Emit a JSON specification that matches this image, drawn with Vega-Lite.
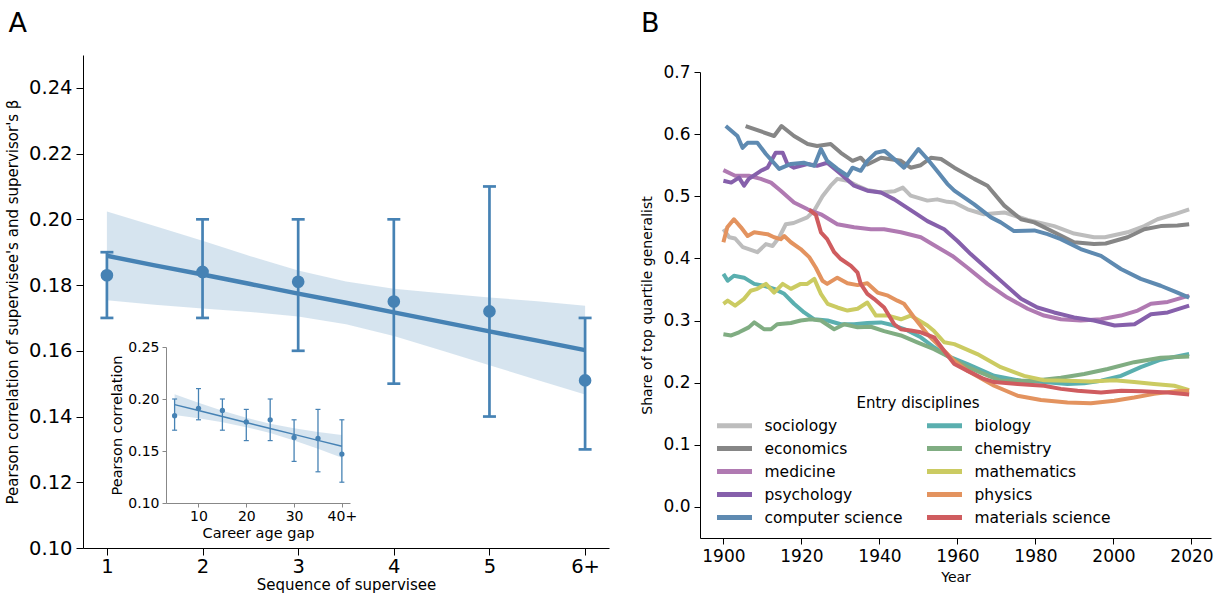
{
  "$schema": "https://vega.github.io/schema/vega-lite/v6.json",
  "padding": {"left": 5, "top": 10, "right": 5, "bottom": 2},
  "spacing": 31,
  "resolve": {"legend": {"color": "independent"}},
  "config": {
    "view": {"stroke": null},
    "font": "DejaVu Sans",
    "axis": {"grid": false, "domainColor": "#000", "tickColor": "#000", "labelColor": "#000", "titleColor": "#000", "titleFontWeight": "normal", "labelFont": "DejaVu Sans", "titleFont": "DejaVu Sans"},
    "legend": {"labelFont": "DejaVu Sans", "titleFont": "DejaVu Sans"},
    "title": {"font": "DejaVu Sans"}
  },
  "datasets": {
    "mainPts": [
      {"seq": 1, "mean": 0.183, "lo": 0.17, "hi": 0.19},
      {"seq": 2, "mean": 0.184, "lo": 0.17, "hi": 0.20},
      {"seq": 3, "mean": 0.181, "lo": 0.16, "hi": 0.20},
      {"seq": 4, "mean": 0.175, "lo": 0.15, "hi": 0.20},
      {"seq": 5, "mean": 0.172, "lo": 0.14, "hi": 0.21},
      {"seq": 6, "mean": 0.151, "lo": 0.13, "hi": 0.17}
    ],
    "mainFit": [
      {"seq": 1, "fit": 0.1889, "lo": 0.1754, "hi": 0.2024},
      {"seq": 1.5, "fit": 0.1860, "lo": 0.1740, "hi": 0.1980},
      {"seq": 2, "fit": 0.1832, "lo": 0.1729, "hi": 0.1935},
      {"seq": 2.5, "fit": 0.1803, "lo": 0.1718, "hi": 0.1888},
      {"seq": 3, "fit": 0.1774, "lo": 0.1704, "hi": 0.1844},
      {"seq": 3.5, "fit": 0.1746, "lo": 0.1681, "hi": 0.1811},
      {"seq": 4, "fit": 0.1717, "lo": 0.1645, "hi": 0.1789},
      {"seq": 4.5, "fit": 0.1688, "lo": 0.1601, "hi": 0.1775},
      {"seq": 5, "fit": 0.1659, "lo": 0.1556, "hi": 0.1762},
      {"seq": 5.5, "fit": 0.1631, "lo": 0.1511, "hi": 0.1751},
      {"seq": 6, "fit": 0.1602, "lo": 0.1467, "hi": 0.1737}
    ],
    "insetPts": [
      {"gap": 5, "mean": 0.184, "lo": 0.17, "hi": 0.20},
      {"gap": 10, "mean": 0.191, "lo": 0.18, "hi": 0.21},
      {"gap": 15, "mean": 0.189, "lo": 0.17, "hi": 0.20},
      {"gap": 20, "mean": 0.178, "lo": 0.16, "hi": 0.19},
      {"gap": 25, "mean": 0.180, "lo": 0.16, "hi": 0.20},
      {"gap": 30, "mean": 0.163, "lo": 0.14, "hi": 0.18},
      {"gap": 35, "mean": 0.162, "lo": 0.13, "hi": 0.19},
      {"gap": 40, "mean": 0.147, "lo": 0.12, "hi": 0.18}
    ],
    "insetFit": [
      {"gap": 5, "fit": 0.1946, "lo": 0.1846, "hi": 0.2046},
      {"gap": 10, "fit": 0.1889, "lo": 0.1814, "hi": 0.1964},
      {"gap": 15, "fit": 0.1831, "lo": 0.1776, "hi": 0.1886},
      {"gap": 20, "fit": 0.1774, "lo": 0.1729, "hi": 0.1819},
      {"gap": 25, "fit": 0.1717, "lo": 0.1672, "hi": 0.1762},
      {"gap": 30, "fit": 0.1660, "lo": 0.1602, "hi": 0.1718},
      {"gap": 35, "fit": 0.1602, "lo": 0.1522, "hi": 0.1682},
      {"gap": 40, "fit": 0.1545, "lo": 0.1435, "hi": 0.1655}
    ],
    "lines": [
      {"d": "sociology", "year": 1900, "v": 0.447}, {"d": "sociology", "year": 1901.5, "v": 0.434}, {"d": "sociology", "year": 1903, "v": 0.432}, {"d": "sociology", "year": 1905, "v": 0.418}, {"d": "sociology", "year": 1908.7, "v": 0.410}, {"d": "sociology", "year": 1910.9, "v": 0.423}, {"d": "sociology", "year": 1912.6, "v": 0.420}, {"d": "sociology", "year": 1914.3, "v": 0.434}, {"d": "sociology", "year": 1916, "v": 0.455}, {"d": "sociology", "year": 1918, "v": 0.457}, {"d": "sociology", "year": 1921.5, "v": 0.466}, {"d": "sociology", "year": 1923.3, "v": 0.477}, {"d": "sociology", "year": 1925.4, "v": 0.500}, {"d": "sociology", "year": 1927.5, "v": 0.517}, {"d": "sociology", "year": 1929.2, "v": 0.528}, {"d": "sociology", "year": 1931.8, "v": 0.525}, {"d": "sociology", "year": 1934.4, "v": 0.517}, {"d": "sociology", "year": 1936.9, "v": 0.510}, {"d": "sociology", "year": 1940.4, "v": 0.506}, {"d": "sociology", "year": 1943.8, "v": 0.508}, {"d": "sociology", "year": 1946, "v": 0.514}, {"d": "sociology", "year": 1948, "v": 0.501}, {"d": "sociology", "year": 1952.3, "v": 0.493}, {"d": "sociology", "year": 1954.8, "v": 0.495}, {"d": "sociology", "year": 1957.4, "v": 0.491}, {"d": "sociology", "year": 1959.2, "v": 0.490}, {"d": "sociology", "year": 1962.6, "v": 0.479}, {"d": "sociology", "year": 1966.8, "v": 0.471}, {"d": "sociology", "year": 1972, "v": 0.474}, {"d": "sociology", "year": 1978, "v": 0.462}, {"d": "sociology", "year": 1984.8, "v": 0.452}, {"d": "sociology", "year": 1989.9, "v": 0.440}, {"d": "sociology", "year": 1995, "v": 0.434}, {"d": "sociology", "year": 1997.8, "v": 0.434}, {"d": "sociology", "year": 2003.6, "v": 0.442}, {"d": "sociology", "year": 2007.9, "v": 0.452}, {"d": "sociology", "year": 2011.3, "v": 0.463}, {"d": "sociology", "year": 2015.6, "v": 0.471}, {"d": "sociology", "year": 2019.4, "v": 0.479},
      {"d": "economics", "year": 1905.7, "v": 0.613}, {"d": "economics", "year": 1913, "v": 0.597}, {"d": "economics", "year": 1914.9, "v": 0.613}, {"d": "economics", "year": 1918.1, "v": 0.597}, {"d": "economics", "year": 1921.6, "v": 0.584}, {"d": "economics", "year": 1924, "v": 0.581}, {"d": "economics", "year": 1927.5, "v": 0.584}, {"d": "economics", "year": 1930.1, "v": 0.570}, {"d": "economics", "year": 1933.1, "v": 0.557}, {"d": "economics", "year": 1935.2, "v": 0.562}, {"d": "economics", "year": 1936.9, "v": 0.551}, {"d": "economics", "year": 1940.4, "v": 0.562}, {"d": "economics", "year": 1945.5, "v": 0.557}, {"d": "economics", "year": 1948, "v": 0.546}, {"d": "economics", "year": 1950.6, "v": 0.550}, {"d": "economics", "year": 1953.2, "v": 0.562}, {"d": "economics", "year": 1955.8, "v": 0.560}, {"d": "economics", "year": 1959.2, "v": 0.546}, {"d": "economics", "year": 1964.3, "v": 0.528}, {"d": "economics", "year": 1967.7, "v": 0.517}, {"d": "economics", "year": 1972, "v": 0.485}, {"d": "economics", "year": 1976.3, "v": 0.463}, {"d": "economics", "year": 1979.7, "v": 0.458}, {"d": "economics", "year": 1984.8, "v": 0.442}, {"d": "economics", "year": 1989.9, "v": 0.426}, {"d": "economics", "year": 1995, "v": 0.423}, {"d": "economics", "year": 1998, "v": 0.424}, {"d": "economics", "year": 2003.6, "v": 0.434}, {"d": "economics", "year": 2007.9, "v": 0.447}, {"d": "economics", "year": 2012.1, "v": 0.452}, {"d": "economics", "year": 2016.4, "v": 0.453}, {"d": "economics", "year": 2019.4, "v": 0.455},
      {"d": "medicine", "year": 1900, "v": 0.542}, {"d": "medicine", "year": 1903, "v": 0.533}, {"d": "medicine", "year": 1906.5, "v": 0.533}, {"d": "medicine", "year": 1909.6, "v": 0.528}, {"d": "medicine", "year": 1912.2, "v": 0.522}, {"d": "medicine", "year": 1914.7, "v": 0.509}, {"d": "medicine", "year": 1918.1, "v": 0.490}, {"d": "medicine", "year": 1921.6, "v": 0.479}, {"d": "medicine", "year": 1925, "v": 0.471}, {"d": "medicine", "year": 1929.2, "v": 0.455}, {"d": "medicine", "year": 1933.5, "v": 0.450}, {"d": "medicine", "year": 1937.8, "v": 0.447}, {"d": "medicine", "year": 1941.2, "v": 0.447}, {"d": "medicine", "year": 1945.5, "v": 0.442}, {"d": "medicine", "year": 1950.6, "v": 0.434}, {"d": "medicine", "year": 1954.9, "v": 0.418}, {"d": "medicine", "year": 1958.7, "v": 0.404}, {"d": "medicine", "year": 1962.6, "v": 0.385}, {"d": "medicine", "year": 1967.7, "v": 0.359}, {"d": "medicine", "year": 1972.8, "v": 0.337}, {"d": "medicine", "year": 1978, "v": 0.319}, {"d": "medicine", "year": 1982.2, "v": 0.308}, {"d": "medicine", "year": 1986.5, "v": 0.302}, {"d": "medicine", "year": 1991.6, "v": 0.300}, {"d": "medicine", "year": 1996.8, "v": 0.302}, {"d": "medicine", "year": 2001.9, "v": 0.308}, {"d": "medicine", "year": 2006.2, "v": 0.316}, {"d": "medicine", "year": 2009.6, "v": 0.327}, {"d": "medicine", "year": 2013.9, "v": 0.330}, {"d": "medicine", "year": 2019.4, "v": 0.340},
      {"d": "psychology", "year": 1900, "v": 0.525}, {"d": "psychology", "year": 1902, "v": 0.522}, {"d": "psychology", "year": 1904, "v": 0.530}, {"d": "psychology", "year": 1905.3, "v": 0.517}, {"d": "psychology", "year": 1906.5, "v": 0.528}, {"d": "psychology", "year": 1909.6, "v": 0.541}, {"d": "psychology", "year": 1911.3, "v": 0.546}, {"d": "psychology", "year": 1913.4, "v": 0.570}, {"d": "psychology", "year": 1915.2, "v": 0.570}, {"d": "psychology", "year": 1916.4, "v": 0.552}, {"d": "psychology", "year": 1918.1, "v": 0.546}, {"d": "psychology", "year": 1921.5, "v": 0.552}, {"d": "psychology", "year": 1924, "v": 0.549}, {"d": "psychology", "year": 1926.6, "v": 0.554}, {"d": "psychology", "year": 1930.1, "v": 0.536}, {"d": "psychology", "year": 1933.5, "v": 0.517}, {"d": "psychology", "year": 1936.9, "v": 0.509}, {"d": "psychology", "year": 1940.4, "v": 0.506}, {"d": "psychology", "year": 1943.8, "v": 0.495}, {"d": "psychology", "year": 1948.9, "v": 0.474}, {"d": "psychology", "year": 1952.3, "v": 0.460}, {"d": "psychology", "year": 1956.6, "v": 0.447}, {"d": "psychology", "year": 1960, "v": 0.428}, {"d": "psychology", "year": 1963.4, "v": 0.407}, {"d": "psychology", "year": 1967.7, "v": 0.383}, {"d": "psychology", "year": 1972, "v": 0.359}, {"d": "psychology", "year": 1976.3, "v": 0.335}, {"d": "psychology", "year": 1980.5, "v": 0.321}, {"d": "psychology", "year": 1984.8, "v": 0.313}, {"d": "psychology", "year": 1989.9, "v": 0.305}, {"d": "psychology", "year": 1995, "v": 0.300}, {"d": "psychology", "year": 2000.3, "v": 0.292}, {"d": "psychology", "year": 2005.4, "v": 0.294}, {"d": "psychology", "year": 2009.6, "v": 0.310}, {"d": "psychology", "year": 2013.9, "v": 0.313}, {"d": "psychology", "year": 2019.4, "v": 0.324},
      {"d": "computer science", "year": 1900.6, "v": 0.613}, {"d": "computer science", "year": 1903.6, "v": 0.597}, {"d": "computer science", "year": 1904.9, "v": 0.578}, {"d": "computer science", "year": 1906.2, "v": 0.586}, {"d": "computer science", "year": 1908.7, "v": 0.586}, {"d": "computer science", "year": 1910.9, "v": 0.568}, {"d": "computer science", "year": 1914.3, "v": 0.544}, {"d": "computer science", "year": 1917.3, "v": 0.552}, {"d": "computer science", "year": 1920.6, "v": 0.554}, {"d": "computer science", "year": 1923.3, "v": 0.549}, {"d": "computer science", "year": 1925, "v": 0.576}, {"d": "computer science", "year": 1926.6, "v": 0.557}, {"d": "computer science", "year": 1929.2, "v": 0.544}, {"d": "computer science", "year": 1931.8, "v": 0.533}, {"d": "computer science", "year": 1933.1, "v": 0.546}, {"d": "computer science", "year": 1935.2, "v": 0.541}, {"d": "computer science", "year": 1936.9, "v": 0.557}, {"d": "computer science", "year": 1939.1, "v": 0.570}, {"d": "computer science", "year": 1941.3, "v": 0.573}, {"d": "computer science", "year": 1943.8, "v": 0.560}, {"d": "computer science", "year": 1946.3, "v": 0.546}, {"d": "computer science", "year": 1950, "v": 0.576}, {"d": "computer science", "year": 1952.3, "v": 0.560}, {"d": "computer science", "year": 1954.9, "v": 0.540}, {"d": "computer science", "year": 1957.4, "v": 0.520}, {"d": "computer science", "year": 1959.2, "v": 0.509}, {"d": "computer science", "year": 1964.3, "v": 0.487}, {"d": "computer science", "year": 1968.6, "v": 0.466}, {"d": "computer science", "year": 1971.1, "v": 0.458}, {"d": "computer science", "year": 1974.5, "v": 0.444}, {"d": "computer science", "year": 1979.7, "v": 0.445}, {"d": "computer science", "year": 1983.1, "v": 0.439}, {"d": "computer science", "year": 1986.5, "v": 0.431}, {"d": "computer science", "year": 1991.6, "v": 0.415}, {"d": "computer science", "year": 1996.8, "v": 0.404}, {"d": "computer science", "year": 2001.9, "v": 0.383}, {"d": "computer science", "year": 2007, "v": 0.367}, {"d": "computer science", "year": 2012.1, "v": 0.356}, {"d": "computer science", "year": 2016.4, "v": 0.345}, {"d": "computer science", "year": 2019.4, "v": 0.337},
      {"d": "biology", "year": 1900, "v": 0.375}, {"d": "biology", "year": 1901.1, "v": 0.364}, {"d": "biology", "year": 1902.7, "v": 0.372}, {"d": "biology", "year": 1905.3, "v": 0.369}, {"d": "biology", "year": 1907.9, "v": 0.359}, {"d": "biology", "year": 1910.4, "v": 0.356}, {"d": "biology", "year": 1913, "v": 0.351}, {"d": "biology", "year": 1915.6, "v": 0.343}, {"d": "biology", "year": 1918.1, "v": 0.327}, {"d": "biology", "year": 1920.7, "v": 0.313}, {"d": "biology", "year": 1923.3, "v": 0.302}, {"d": "biology", "year": 1926.7, "v": 0.300}, {"d": "biology", "year": 1930.1, "v": 0.294}, {"d": "biology", "year": 1933.5, "v": 0.294}, {"d": "biology", "year": 1936.9, "v": 0.296}, {"d": "biology", "year": 1940.4, "v": 0.297}, {"d": "biology", "year": 1943.8, "v": 0.292}, {"d": "biology", "year": 1947.2, "v": 0.284}, {"d": "biology", "year": 1950.6, "v": 0.273}, {"d": "biology", "year": 1954, "v": 0.257}, {"d": "biology", "year": 1957.4, "v": 0.243}, {"d": "biology", "year": 1962.6, "v": 0.230}, {"d": "biology", "year": 1969.4, "v": 0.211}, {"d": "biology", "year": 1976.3, "v": 0.203}, {"d": "biology", "year": 1982.2, "v": 0.201}, {"d": "biology", "year": 1988.2, "v": 0.198}, {"d": "biology", "year": 1992.5, "v": 0.199}, {"d": "biology", "year": 1996.8, "v": 0.203}, {"d": "biology", "year": 2001.9, "v": 0.211}, {"d": "biology", "year": 2007, "v": 0.225}, {"d": "biology", "year": 2012.1, "v": 0.237}, {"d": "biology", "year": 2019.4, "v": 0.246},
      {"d": "chemistry", "year": 1900, "v": 0.278}, {"d": "chemistry", "year": 1902, "v": 0.276}, {"d": "chemistry", "year": 1904, "v": 0.281}, {"d": "chemistry", "year": 1906.5, "v": 0.289}, {"d": "chemistry", "year": 1907.9, "v": 0.297}, {"d": "chemistry", "year": 1910.4, "v": 0.286}, {"d": "chemistry", "year": 1912.2, "v": 0.286}, {"d": "chemistry", "year": 1913.8, "v": 0.294}, {"d": "chemistry", "year": 1917.3, "v": 0.296}, {"d": "chemistry", "year": 1919.8, "v": 0.300}, {"d": "chemistry", "year": 1922.4, "v": 0.302}, {"d": "chemistry", "year": 1925, "v": 0.300}, {"d": "chemistry", "year": 1928.4, "v": 0.286}, {"d": "chemistry", "year": 1931, "v": 0.294}, {"d": "chemistry", "year": 1934.4, "v": 0.289}, {"d": "chemistry", "year": 1937.8, "v": 0.290}, {"d": "chemistry", "year": 1941.2, "v": 0.283}, {"d": "chemistry", "year": 1945.5, "v": 0.276}, {"d": "chemistry", "year": 1949.7, "v": 0.265}, {"d": "chemistry", "year": 1954, "v": 0.254}, {"d": "chemistry", "year": 1957.4, "v": 0.243}, {"d": "chemistry", "year": 1962.6, "v": 0.225}, {"d": "chemistry", "year": 1971.1, "v": 0.203}, {"d": "chemistry", "year": 1979.6, "v": 0.203}, {"d": "chemistry", "year": 1986.5, "v": 0.208}, {"d": "chemistry", "year": 1992.5, "v": 0.214}, {"d": "chemistry", "year": 1998.5, "v": 0.222}, {"d": "chemistry", "year": 2005.3, "v": 0.233}, {"d": "chemistry", "year": 2012.1, "v": 0.240}, {"d": "chemistry", "year": 2019.4, "v": 0.242},
      {"d": "mathematics", "year": 1900, "v": 0.327}, {"d": "mathematics", "year": 1901.1, "v": 0.332}, {"d": "mathematics", "year": 1903, "v": 0.324}, {"d": "mathematics", "year": 1905.3, "v": 0.335}, {"d": "mathematics", "year": 1907, "v": 0.348}, {"d": "mathematics", "year": 1908.7, "v": 0.351}, {"d": "mathematics", "year": 1910.9, "v": 0.359}, {"d": "mathematics", "year": 1913, "v": 0.345}, {"d": "mathematics", "year": 1915.2, "v": 0.359}, {"d": "mathematics", "year": 1917.3, "v": 0.351}, {"d": "mathematics", "year": 1919.8, "v": 0.359}, {"d": "mathematics", "year": 1921.5, "v": 0.359}, {"d": "mathematics", "year": 1923.3, "v": 0.367}, {"d": "mathematics", "year": 1925, "v": 0.343}, {"d": "mathematics", "year": 1926.7, "v": 0.327}, {"d": "mathematics", "year": 1929.2, "v": 0.321}, {"d": "mathematics", "year": 1931.8, "v": 0.316}, {"d": "mathematics", "year": 1934.4, "v": 0.319}, {"d": "mathematics", "year": 1936.9, "v": 0.329}, {"d": "mathematics", "year": 1939.1, "v": 0.308}, {"d": "mathematics", "year": 1942.2, "v": 0.308}, {"d": "mathematics", "year": 1945.5, "v": 0.302}, {"d": "mathematics", "year": 1948, "v": 0.308}, {"d": "mathematics", "year": 1952.3, "v": 0.292}, {"d": "mathematics", "year": 1954, "v": 0.283}, {"d": "mathematics", "year": 1956.6, "v": 0.265}, {"d": "mathematics", "year": 1959.2, "v": 0.262}, {"d": "mathematics", "year": 1965.1, "v": 0.246}, {"d": "mathematics", "year": 1971.1, "v": 0.225}, {"d": "mathematics", "year": 1977.1, "v": 0.211}, {"d": "mathematics", "year": 1982.2, "v": 0.204}, {"d": "mathematics", "year": 1988.2, "v": 0.203}, {"d": "mathematics", "year": 1994.2, "v": 0.202}, {"d": "mathematics", "year": 2000.2, "v": 0.204}, {"d": "mathematics", "year": 2005.3, "v": 0.201}, {"d": "mathematics", "year": 2010.4, "v": 0.198}, {"d": "mathematics", "year": 2015.6, "v": 0.195}, {"d": "mathematics", "year": 2019.4, "v": 0.188},
      {"d": "physics", "year": 1900, "v": 0.426}, {"d": "physics", "year": 1901, "v": 0.450}, {"d": "physics", "year": 1902.7, "v": 0.463}, {"d": "physics", "year": 1904.5, "v": 0.450}, {"d": "physics", "year": 1906.2, "v": 0.436}, {"d": "physics", "year": 1907.9, "v": 0.442}, {"d": "physics", "year": 1911.3, "v": 0.439}, {"d": "physics", "year": 1913, "v": 0.434}, {"d": "physics", "year": 1914.7, "v": 0.431}, {"d": "physics", "year": 1915.6, "v": 0.436}, {"d": "physics", "year": 1917.3, "v": 0.426}, {"d": "physics", "year": 1919.8, "v": 0.415}, {"d": "physics", "year": 1922, "v": 0.402}, {"d": "physics", "year": 1923.7, "v": 0.385}, {"d": "physics", "year": 1925.4, "v": 0.364}, {"d": "physics", "year": 1926.6, "v": 0.359}, {"d": "physics", "year": 1929.2, "v": 0.369}, {"d": "physics", "year": 1931.8, "v": 0.360}, {"d": "physics", "year": 1934.4, "v": 0.357}, {"d": "physics", "year": 1936.9, "v": 0.360}, {"d": "physics", "year": 1939.5, "v": 0.345}, {"d": "physics", "year": 1942.2, "v": 0.340}, {"d": "physics", "year": 1944.6, "v": 0.332}, {"d": "physics", "year": 1946.3, "v": 0.327}, {"d": "physics", "year": 1948.9, "v": 0.305}, {"d": "physics", "year": 1952.3, "v": 0.278}, {"d": "physics", "year": 1955.7, "v": 0.257}, {"d": "physics", "year": 1959.2, "v": 0.235}, {"d": "physics", "year": 1962.6, "v": 0.219}, {"d": "physics", "year": 1969.4, "v": 0.195}, {"d": "physics", "year": 1975.4, "v": 0.179}, {"d": "physics", "year": 1981.4, "v": 0.172}, {"d": "physics", "year": 1988.2, "v": 0.168}, {"d": "physics", "year": 1994.2, "v": 0.167}, {"d": "physics", "year": 2000.2, "v": 0.171}, {"d": "physics", "year": 2005.3, "v": 0.176}, {"d": "physics", "year": 2010.4, "v": 0.182}, {"d": "physics", "year": 2015.6, "v": 0.186}, {"d": "physics", "year": 2019.4, "v": 0.187},
      {"d": "materials science", "year": 1922, "v": 0.478}, {"d": "materials science", "year": 1923.7, "v": 0.470}, {"d": "materials science", "year": 1925, "v": 0.442}, {"d": "materials science", "year": 1926.6, "v": 0.431}, {"d": "materials science", "year": 1928.4, "v": 0.410}, {"d": "materials science", "year": 1930.1, "v": 0.399}, {"d": "materials science", "year": 1932.7, "v": 0.388}, {"d": "materials science", "year": 1934.4, "v": 0.377}, {"d": "materials science", "year": 1935.2, "v": 0.359}, {"d": "materials science", "year": 1936.9, "v": 0.343}, {"d": "materials science", "year": 1938.6, "v": 0.335}, {"d": "materials science", "year": 1941.2, "v": 0.321}, {"d": "materials science", "year": 1943.8, "v": 0.294}, {"d": "materials science", "year": 1945.5, "v": 0.286}, {"d": "materials science", "year": 1948, "v": 0.284}, {"d": "materials science", "year": 1950.6, "v": 0.281}, {"d": "materials science", "year": 1954, "v": 0.273}, {"d": "materials science", "year": 1956.6, "v": 0.251}, {"d": "materials science", "year": 1959.2, "v": 0.230}, {"d": "materials science", "year": 1962.6, "v": 0.219}, {"d": "materials science", "year": 1966.8, "v": 0.206}, {"d": "materials science", "year": 1969.4, "v": 0.201}, {"d": "materials science", "year": 1975.4, "v": 0.198}, {"d": "materials science", "year": 1982.2, "v": 0.195}, {"d": "materials science", "year": 1986.5, "v": 0.190}, {"d": "materials science", "year": 1990.8, "v": 0.187}, {"d": "materials science", "year": 1996.8, "v": 0.184}, {"d": "materials science", "year": 2002, "v": 0.187}, {"d": "materials science", "year": 2007.2, "v": 0.186}, {"d": "materials science", "year": 2013.9, "v": 0.184}, {"d": "materials science", "year": 2019.4, "v": 0.181}
    ]
  },
  "hconcat": [
    {
      "width": 526,
      "height": 493,
      "title": {"text": "A", "anchor": "start", "fontSize": 27, "fontWeight": "normal", "offset": 17, "color": "#000", "dx": 3},
      "layer": [
        {
          "layer": [
            {
              "data": {"name": "mainFit"},
              "mark": {"type": "area", "color": "#4682b4", "opacity": 0.22},
              "encoding": {
                "x": {"field": "seq", "type": "quantitative", "title": "Sequence of supervisee"},
                "y": {"field": "lo", "type": "quantitative", "title": "Pearson correlation of supervisee's and supervisor's β"},
                "y2": {"field": "hi"}
              }
            },
            {
              "data": {"name": "mainFit"},
              "mark": {"type": "line", "color": "#4682b4", "strokeWidth": 4.5},
              "encoding": {
                "x": {"field": "seq", "type": "quantitative", "title": "Sequence of supervisee"},
                "y": {"field": "fit", "type": "quantitative", "title": "Pearson correlation of supervisee's and supervisor's β"}
              }
            },
            {
              "data": {"name": "mainPts"},
              "mark": {"type": "rule", "color": "#4682b4", "strokeWidth": 2.7},
              "encoding": {
                "x": {"field": "seq", "type": "quantitative", "title": "Sequence of supervisee"},
                "y": {"field": "lo", "type": "quantitative", "title": "Pearson correlation of supervisee's and supervisor's β"},
                "y2": {"field": "hi"}
              }
            },
            {
              "data": {"name": "mainPts"},
              "mark": {"type": "tick", "orient": "horizontal", "color": "#4682b4", "size": 13, "thickness": 2.7, "opacity": 1},
              "encoding": {
                "x": {"field": "seq", "type": "quantitative", "title": "Sequence of supervisee"},
                "y": {"field": "lo", "type": "quantitative", "title": "Pearson correlation of supervisee's and supervisor's β"}
              }
            },
            {
              "data": {"name": "mainPts"},
              "mark": {"type": "tick", "orient": "horizontal", "color": "#4682b4", "size": 13, "thickness": 2.7, "opacity": 1},
              "encoding": {
                "x": {"field": "seq", "type": "quantitative", "title": "Sequence of supervisee"},
                "y": {"field": "hi", "type": "quantitative", "title": "Pearson correlation of supervisee's and supervisor's β"}
              }
            },
            {
              "data": {"name": "mainPts"},
              "mark": {"type": "circle", "color": "#4682b4", "size": 160, "opacity": 1},
              "encoding": {
                "x": {
                  "field": "seq", "type": "quantitative", "title": "Sequence of supervisee",
                  "scale": {"domain": [0.75, 6.25], "nice": false, "zero": false},
                  "axis": {"values": [1, 2, 3, 4, 5, 6], "format": "d", "labelExpr": "datum.value == 6 ? '6+' : datum.label", "labelFontSize": 19.5, "titleFontSize": 15, "tickSize": 7, "labelPadding": 2, "titlePadding": 2}
                },
                "y": {
                  "field": "mean", "type": "quantitative", "title": "Pearson correlation of supervisee's and supervisor's β",
                  "scale": {"domain": [0.10, 0.25], "nice": false, "zero": false},
                  "axis": {"values": [0.10, 0.12, 0.14, 0.16, 0.18, 0.20, 0.22, 0.24], "format": ".2f", "labelFontSize": 19.5, "titleFontSize": 15, "tickSize": 7, "labelPadding": 4, "titlePadding": 8}
                }
              }
            }
          ]
        },
        {
          "layer": [
            {
              "data": {"name": "insetFit"},
              "mark": {"type": "area", "color": "#4682b4", "opacity": 0.22},
              "encoding": {
                "x": {"field": "gap", "type": "quantitative", "title": "Career age gap"},
                "y": {"field": "lo", "type": "quantitative", "title": "Pearson correlation"},
                "y2": {"field": "hi"}
              }
            },
            {
              "data": {"name": "insetFit"},
              "mark": {"type": "line", "color": "#4682b4", "strokeWidth": 1.5},
              "encoding": {
                "x": {"field": "gap", "type": "quantitative", "title": "Career age gap"},
                "y": {"field": "fit", "type": "quantitative", "title": "Pearson correlation"}
              }
            },
            {
              "data": {"name": "insetPts"},
              "mark": {"type": "rule", "color": "#4682b4", "strokeWidth": 1.3},
              "encoding": {
                "x": {"field": "gap", "type": "quantitative", "title": "Career age gap"},
                "y": {"field": "lo", "type": "quantitative", "title": "Pearson correlation"},
                "y2": {"field": "hi"}
              }
            },
            {
              "data": {"name": "insetPts"},
              "mark": {"type": "tick", "orient": "horizontal", "color": "#4682b4", "size": 5, "thickness": 1.2, "opacity": 1},
              "encoding": {
                "x": {"field": "gap", "type": "quantitative", "title": "Career age gap"},
                "y": {"field": "lo", "type": "quantitative", "title": "Pearson correlation"}
              }
            },
            {
              "data": {"name": "insetPts"},
              "mark": {"type": "tick", "orient": "horizontal", "color": "#4682b4", "size": 5, "thickness": 1.2, "opacity": 1},
              "encoding": {
                "x": {"field": "gap", "type": "quantitative", "title": "Career age gap"},
                "y": {"field": "hi", "type": "quantitative", "title": "Pearson correlation"}
              }
            },
            {
              "data": {"name": "insetPts"},
              "mark": {"type": "circle", "color": "#4682b4", "size": 28, "opacity": 1},
              "encoding": {
                "x": {
                  "field": "gap", "type": "quantitative", "title": "Career age gap",
                  "scale": {"domain": [3.2, 41.7], "nice": false, "zero": false, "range": [83, 267]},
                  "axis": {"orient": "bottom", "offset": -45, "values": [10, 20, 30, 40], "format": "d", "labelExpr": "datum.value == 40 ? '40+' : datum.label", "labelFontSize": 14, "titleFontSize": 14.5, "tickSize": 4, "labelPadding": 2, "titlePadding": 3, "domainColor": "#888", "tickColor": "#888"}
                },
                "y": {
                  "field": "mean", "type": "quantitative", "title": "Pearson correlation",
                  "scale": {"domain": [0.10, 0.25], "nice": false, "zero": false, "range": [448, 292]},
                  "axis": {"orient": "left", "offset": -83, "values": [0.10, 0.15, 0.20, 0.25], "format": ".2f", "labelFontSize": 14, "titleFontSize": 14.5, "tickSize": 4, "labelPadding": 3, "titlePadding": 3, "domainColor": "#888", "tickColor": "#888"}
                }
              }
            }
          ]
        }
      ],
      "resolve": {"scale": {"x": "independent", "y": "independent"}, "axis": {"x": "independent", "y": "independent"}}
    },
    {
      "width": 511,
      "height": 483,
      "title": {"text": "B", "anchor": "start", "fontSize": 27, "fontWeight": "normal", "offset": 17, "color": "#000"},
      "data": {"name": "lines"},
      "mark": {"type": "line", "strokeWidth": 4, "strokeJoin": "round"},
      "encoding": {
        "x": {
          "field": "year", "type": "quantitative", "title": "Year",
          "scale": {"domain": [1894, 2025], "nice": false, "zero": false},
          "axis": {"values": [1900, 1920, 1940, 1960, 1980, 2000, 2020], "format": "d", "labelFontSize": 17, "titleFontSize": 14, "tickSize": 6, "labelPadding": 4, "titlePadding": 6}
        },
        "y": {
          "field": "v", "type": "quantitative", "title": "Share of top quartile generalist",
          "scale": {"domain": [-0.05, 0.7], "nice": false, "zero": false, "range": [483, 17]},
          "axis": {"values": [0, 0.1, 0.2, 0.3, 0.4, 0.5, 0.6, 0.7], "format": ".1f", "labelFontSize": 17, "titleFontSize": 14, "tickSize": 6, "labelPadding": 4, "titlePadding": 8}
        },
        "color": {
          "field": "d", "type": "nominal",
          "scale": {
            "domain": ["sociology", "economics", "medicine", "psychology", "computer science", "biology", "chemistry", "mathematics", "physics", "materials science"],
            "range": ["#bdbdbd", "#868686", "#b07ab2", "#8660ab", "#5e8ab1", "#5aafaf", "#80ad82", "#cbcb62", "#e3935f", "#cf5c5f"]
          },
          "legend": {
            "orient": "none", "legendX": 25, "legendY": 341, "columns": 2,
            "title": "Entry disciplines", "titleFontSize": 15, "titleFontWeight": "normal", "titleAnchor": "middle", "titleColor": "#000",
            "labelFontSize": 15.5, "labelColor": "#000", "symbolType": "M-2.5,0H2.5", "symbolStrokeWidth": 5, "symbolSize": 196,
            "columnPadding": 14, "rowPadding": 2, "labelOffset": 20.5
          }
        }
      }
    }
  ]
}
